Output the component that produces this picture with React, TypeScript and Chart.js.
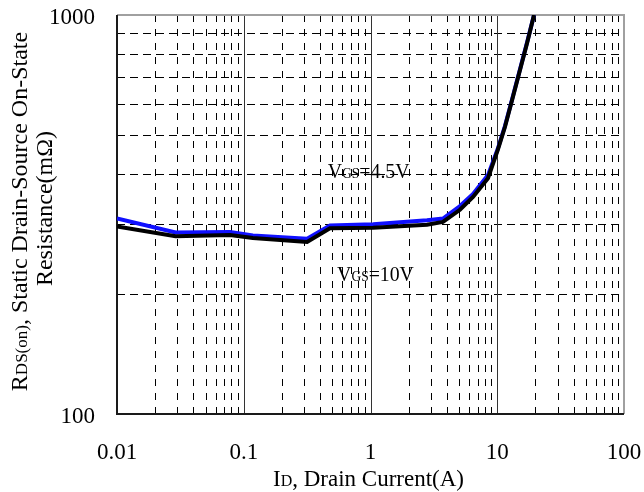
import React, { useEffect, useRef } from "react";
import { Chart, registerables } from "chart.js";

Chart.register(...registerables);

// ---- Data ----
const drainCurrentA = [0.01, 0.029, 0.078, 0.118, 0.316, 0.479, 1.05, 2.79, 3.73, 5.08, 6.44, 8.45, 10.1, 11.5, 13.1, 17.2, 19.5];
const rdsVgs10 = [295, 279, 281, 276, 270, 292, 293, 298, 303, 325, 350, 390, 459, 524, 612, 851, 1000];
const rdsVgs45 = [309, 285, 286, 280, 275, 297, 299, 306, 309, 332, 356, 397, 462, 527, 615, 855, 1000];

const xTickValues = [0.01, 0.1, 1, 10, 100];
const xTickLabels = ["0.01", "0.1", "1", "10", "100"];
const yTickValues = [100, 1000];
const yTickLabels = ["100", "1000"];
const xDecades = [0.01, 0.1, 1, 10];
const minorFactors = [2, 3, 4, 5, 6, 7, 8, 9];
const yGridValues = [200, 300, 400, 500, 600, 700, 800, 900];

const FONT = "'Liberation Serif', 'Times New Roman', serif";

type Seg = { text: string; size: number };

function drawRich(ctx: CanvasRenderingContext2D, segs: Seg[], x: number, y: number, align: "left" | "center", sx = 1) {
  let total = 0;
  const widths = segs.map((s) => {
    ctx.font = `${s.size}px ${FONT}`;
    const w = ctx.measureText(s.text).width;
    total += w;
    return w;
  });
  ctx.save();
  ctx.translate(x, y);
  ctx.scale(sx, 1);
  let cx = align === "center" ? -total / 2 : 0;
  ctx.textBaseline = "alphabetic";
  ctx.textAlign = "left";
  segs.forEach((s, i) => {
    ctx.font = `${s.size}px ${FONT}`;
    ctx.fillText(s.text, cx, 0);
    cx += widths[i];
  });
  ctx.restore();
}

function matchIdx(values: number[], v: number) {
  return values.findIndex((t) => Math.abs(t - v) / t < 1e-6);
}

const gridPlugin = {
  id: "customGrid",
  beforeDatasetsDraw(chart: any) {
    const { ctx, chartArea } = chart;
    const xs = chart.scales.x;
    const ys = chart.scales.y;
    const { left, right, top, bottom } = chartArea;
    ctx.save();
    ctx.lineWidth = 1;
    ctx.strokeStyle = "#000";
    ctx.setLineDash([8, 5]);
    yGridValues.forEach((v) => {
      const y = Math.round(ys.getPixelForValue(v)) + 0.5;
      ctx.beginPath();
      ctx.moveTo(left, y);
      ctx.lineTo(right, y);
      ctx.stroke();
    });
    ctx.setLineDash([7, 7]);
    xDecades.forEach((d) => {
      minorFactors.forEach((f) => {
        const x = Math.round(xs.getPixelForValue(d * f)) + 0.5;
        ctx.beginPath();
        ctx.moveTo(x, top);
        ctx.lineTo(x, bottom);
        ctx.stroke();
      });
    });
    ctx.setLineDash([]);
    ctx.strokeStyle = "#333";
    [0.1, 1, 10].forEach((v) => {
      const x = Math.round(xs.getPixelForValue(v)) + 0.5;
      ctx.beginPath();
      ctx.moveTo(x, top);
      ctx.lineTo(x, bottom);
      ctx.stroke();
    });
    ctx.lineWidth = 2;
    ctx.strokeStyle = "#a0a0a0";
    ctx.beginPath();
    ctx.moveTo(left, top);
    ctx.lineTo(right, top);
    ctx.lineTo(right, bottom);
    ctx.stroke();
    ctx.strokeStyle = "#1a1a1a";
    ctx.beginPath();
    ctx.moveTo(left, top);
    ctx.lineTo(left, bottom);
    ctx.lineTo(right, bottom);
    ctx.stroke();
    ctx.restore();
  },
  afterDraw(chart: any) {
    const { ctx, chartArea } = chart;
    const xs = chart.scales.x;
    const ys = chart.scales.y;
    ctx.save();
    ctx.fillStyle = "#000";
    drawRich(ctx, [{ text: "V", size: 22 }, { text: "GS", size: 15 }, { text: "=4.5V", size: 22 }],
      xs.getPixelForValue(0.46), ys.getPixelForValue(390), "left", 0.9);
    drawRich(ctx, [{ text: "V", size: 22 }, { text: "GS", size: 15 }, { text: "=10V", size: 22 }],
      xs.getPixelForValue(0.545), ys.getPixelForValue(215), "left", 0.9);
    const cxMid = (chartArea.left + chartArea.right) / 2;
    drawRich(ctx, [{ text: "I", size: 23 }, { text: "D", size: 16 }, { text: ", Drain Current(A)", size: 23 }],
      cxMid - 2, 486, "center");
    const cyMid = (chartArea.top + chartArea.bottom) / 2;
    ctx.save();
    ctx.translate(27, cyMid - 3);
    ctx.rotate(-Math.PI / 2);
    drawRich(ctx, [{ text: "R", size: 24 }, { text: "DS(on)", size: 17 }, { text: ", Static Drain-Source On-State", size: 24 }], 0, 0, "center");
    ctx.restore();
    ctx.save();
    ctx.translate(52, cyMid - 6);
    ctx.rotate(-Math.PI / 2);
    drawRich(ctx, [{ text: "Resistance(mΩ)", size: 24 }], 0, 0, "center");
    ctx.restore();
    ctx.restore();
  },
};

export default function App() {
  const canvasRef = useRef<HTMLCanvasElement | null>(null);

  useEffect(() => {
    document.body.style.margin = "0";
    const canvas = canvasRef.current;
    if (!canvas) return;
    const chart = new Chart(canvas, {
      type: "line",
      data: {
        datasets: [
          {
            label: "VGS=10V",
            data: drainCurrentA.map((x, i) => ({ x, y: rdsVgs10[i] })),
            borderColor: "#000000",
            borderWidth: 4,
            pointRadius: 0,
            tension: 0,
            fill: false,
          },
          {
            label: "VGS=4.5V",
            data: drainCurrentA.map((x, i) => ({ x, y: rdsVgs45[i] })),
            borderColor: "#1010ff",
            borderWidth: 4,
            pointRadius: 0,
            tension: 0,
            fill: false,
          },
        ],
      },
      options: {
        animation: false,
        responsive: false,
        devicePixelRatio: 1,
        layout: { padding: { top: 15, right: 20, bottom: 0, left: 0 } },
        plugins: { legend: { display: false }, tooltip: { enabled: false } },
        scales: {
          x: {
            type: "logarithmic",
            min: 0.01,
            max: 100,
            grid: { display: false, drawTicks: false },
            border: { display: false },
            ticks: {
              autoSkip: false,
              maxRotation: 0,
              minRotation: 0,
              padding: 25,
              color: "#000",
              font: { family: FONT, size: 23 },
              callback: (value: any) => {
                const i = matchIdx(xTickValues, Number(value));
                return i >= 0 ? xTickLabels[i] : "";
              },
            },
            afterFit: (scale: any) => {
              scale.height = 78;
              scale.paddingLeft = 0;
              scale.paddingRight = 0;
            },
          },
          y: {
            type: "logarithmic",
            min: 100,
            max: 1000,
            grid: { display: false, drawTicks: false },
            border: { display: false },
            ticks: {
              autoSkip: false,
              padding: 22,
              labelOffset: 3,
              color: "#000",
              font: { family: FONT, size: 23 },
              callback: (value: any) => {
                const i = matchIdx(yTickValues, Number(value));
                return i >= 0 ? yTickLabels[i] : "";
              },
            },
            afterFit: (scale: any) => {
              scale.width = 117;
              scale.paddingTop = 0;
              scale.paddingBottom = 0;
            },
          },
        },
      } as any,
      plugins: [gridPlugin],
    });
    return () => chart.destroy();
  }, []);

  return (
    <div style={{ width: 644, height: 492 }}>
      <canvas ref={canvasRef} width={644} height={492} style={{ display: "block" }} />
    </div>
  );
}
